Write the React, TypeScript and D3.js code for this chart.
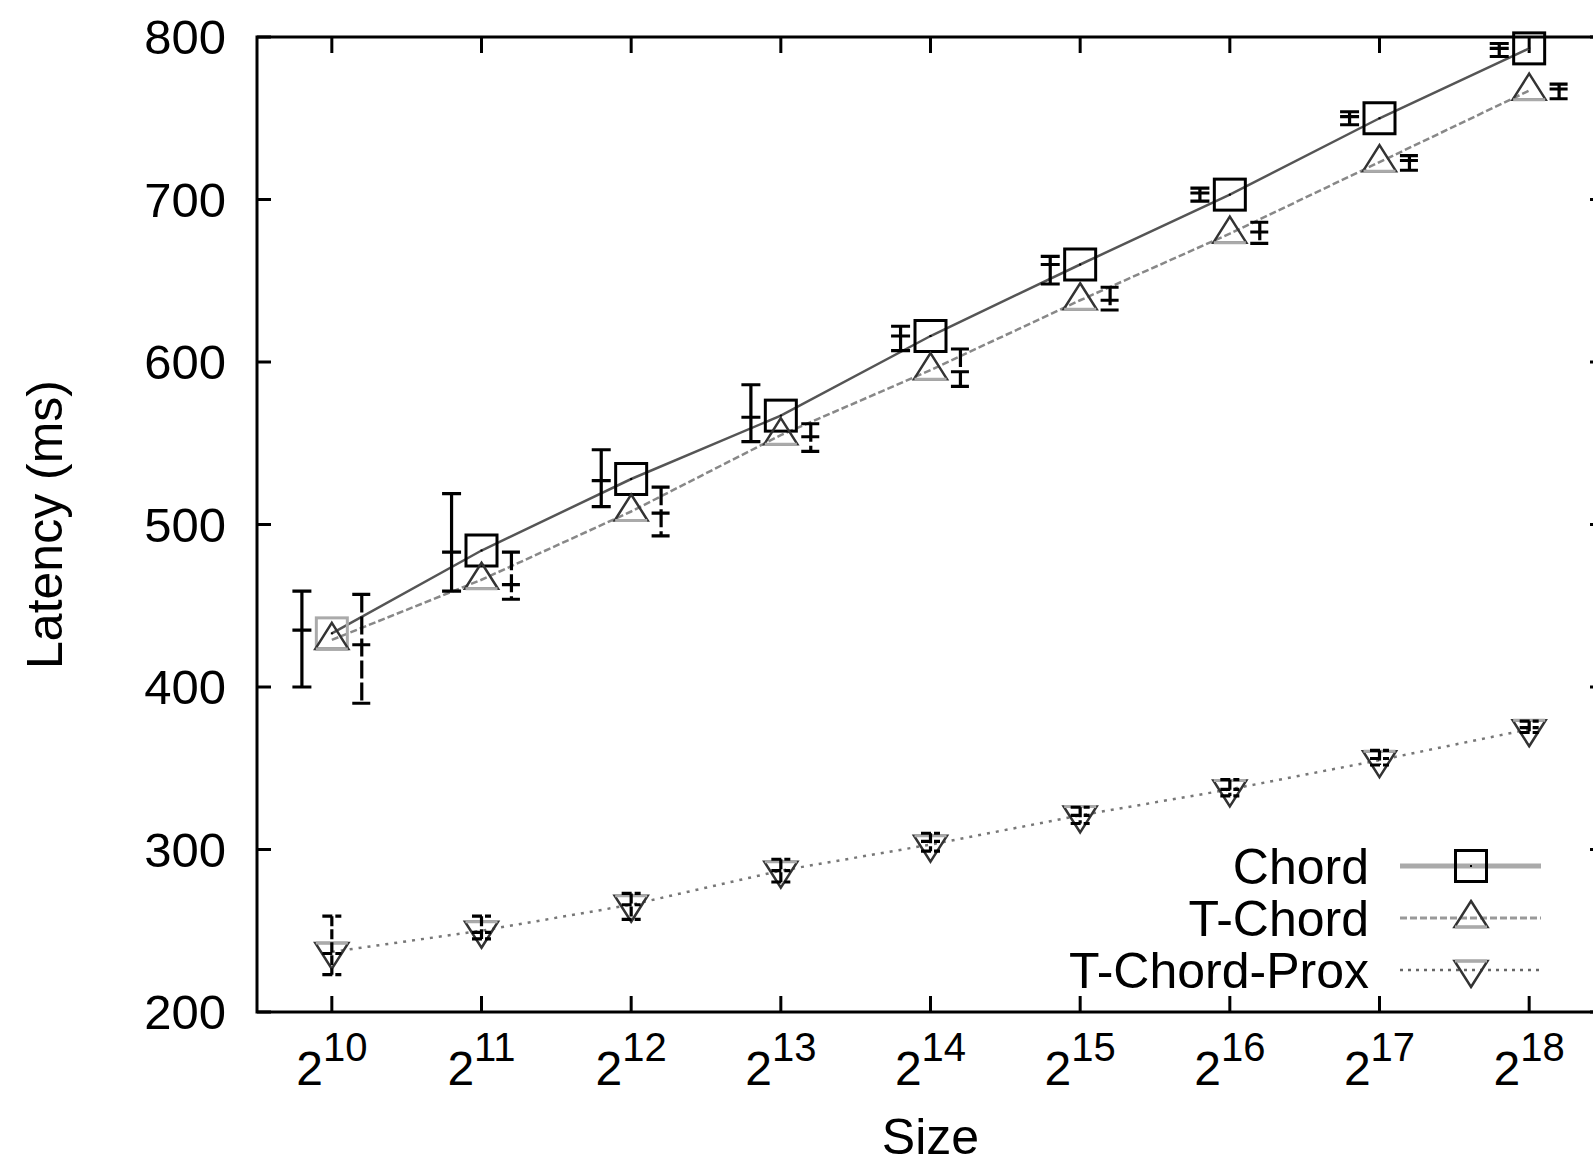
import React from 'react'
import { scaleLinear, line } from 'd3'

// log2 of network size
const exponents = [10, 11, 12, 13, 14, 15, 16, 17, 18]
const yTicks = [200, 300, 400, 500, 600, 700, 800]

// mean latency (ms) at each size
const chord = [433, 484, 528, 567, 616, 660, 703, 750, 793]
const tChord = [429, 466, 508, 555, 595, 638, 679, 723, 767]
const tChordProx = [237, 250, 266, 287, 303, 321, 337, 355, 374]

// error bars (low / centre / high)
const chordLo = [400, 459, 511, 551, 607, 648, 699, 746, 788]
const chordMid = [435, 483, 527, 566, 616, 660, 704, 751, 793]
const chordHi = [459, 519, 546, 586, 622, 665, 707, 754, 796]

const tChordLo = [390, 454, 493, 545, 585, 632, 673, 718, 762]
const tChordMid = [426, 463, 507, 554, 594, 638, 680, 724, 768]
const tChordHi = [457, 483, 523, 562, 608, 646, 686, 727, 771]

const proxLo = [223, 245, 257, 280, 299, 316, 333, 352, 372]
const proxMid = [236, 249, 266, 287, 305, 321, 337, 356, 375]
const proxHi = [259, 259, 273, 294, 310, 326, 343, 361, 379]

const W = 1593
const H = 1164
const margin = { top: 37, right: -11, bottom: 152, left: 257 }
const FONT = '"Liberation Sans", Arial, Helvetica, sans-serif'

const x = scaleLinear().domain([9.5, 18.5]).range([margin.left, W - margin.right])
const y = scaleLinear().domain([200, 800]).range([H - margin.bottom, margin.top])

const series = [
    { name: 'Chord', values: chord, lo: chordLo, mid: chordMid, hi: chordHi, offset: -0.2,
      stroke: '#555', dash: null, errDash: null, marker: 'square', legendStroke: '#aaa', legendWidth: 5, legendDash: null },
    { name: 'T-Chord', values: tChord, lo: tChordLo, mid: tChordMid, hi: tChordHi, offset: 0.2,
      stroke: '#888', dash: '7,3', errDash: '18,4', marker: 'up', legendStroke: '#999', legendWidth: 3, legendDash: '7,3' },
    { name: 'T-Chord-Prox', values: tChordProx, lo: proxLo, mid: proxMid, hi: proxHi, offset: 0,
      stroke: '#777', dash: '3,6', errDash: '10,3', marker: 'down', legendStroke: '#666', legendWidth: 2.5, legendDash: '3,5' }
]

const Marker = ({ type, cx, cy, first }: { type: string, cx: number, cy: number, first?: boolean }) => {
    if (type === 'square') {
        return (
            <g>
                <rect x={cx - 15.5} y={cy - 15.5} width={31} height={31} fill="none"
                    stroke={first ? '#aaa' : '#000'} strokeWidth={3} />
                <rect x={cx - 1} y={cy - 1} width={2} height={2} fill="#000" />
            </g>
        )
    }
    const s = type === 'up' ? 1 : -1
    const apex = cy - 17 * s
    const base = cy + 9 * s
    return (
        <g>
            <path d={`M${cx},${apex}L${cx + 16.5},${base}L${cx - 16.5},${base}Z`} fill="none"
                stroke="#333" strokeWidth={2.5} strokeLinejoin="miter" />
            <line x1={cx - 16} x2={cx + 16} y1={base} y2={base} stroke="#aaa" strokeWidth={3} />
        </g>
    )
}

const App = () => {
    const plotW = x.range()[1] - x.range()[0]
    const plotH = y.range()[0] - y.range()[1]
    const x0 = x.range()[0]
    const y0 = y.range()[1]
    const yBottom = y.range()[0]
    const xRight = x.range()[1]

    const legendX = 1369
    const legendRows = [866, 918, 970]

    return (
        <svg width={W} height={H} style={{ position: 'absolute', left: 0, top: 0, background: '#fff' }}
            fontFamily={FONT}>
            <rect x={0} y={0} width={W} height={H} fill="#fff" />

            {/* ticks */}
            {yTicks.map((t) => (
                <g key={'yt' + t}>
                    <line x1={x0} x2={x0 + 14} y1={y(t)} y2={y(t)} stroke="#000" strokeWidth={3} />
                    <line x1={xRight - 14} x2={xRight} y1={y(t)} y2={y(t)} stroke="#000" strokeWidth={3} />
                    <text x={226} y={y(t) + 17} textAnchor="end" fontSize={49} fill="#000">{t}</text>
                </g>
            ))}
            {exponents.map((e) => (
                <g key={'xt' + e}>
                    <line x1={x(e)} x2={x(e)} y1={yBottom} y2={yBottom - 16} stroke="#000" strokeWidth={3} />
                    <line x1={x(e)} x2={x(e)} y1={y0} y2={y0 + 16} stroke="#000" strokeWidth={3} />
                    <text x={x(e)} y={1085} textAnchor="middle" fontSize={48} fill="#000">
                        2<tspan dy={-24} fontSize={40}>{e}</tspan>
                    </text>
                </g>
            ))}

            {/* frame */}
            <rect x={x0} y={y0} width={plotW} height={plotH} fill="none" stroke="#000" strokeWidth={3} />

            {/* axis titles */}
            <text x={x0 + plotW / 2} y={1154} textAnchor="middle" fontSize={50} fill="#000">Size</text>
            <text transform={`translate(62,${y0 + plotH / 2}) rotate(-90)`} textAnchor="middle"
                fontSize={50} fill="#000">Latency (ms)</text>

            {/* series lines */}
            {series.map((s) => {
                const path = line<number>()
                    .x((_, i) => x(exponents[i]))
                    .y((d) => y(d))(s.values)
                return (
                    <path key={'l' + s.name} d={path || ''} fill="none" stroke={s.stroke}
                        strokeWidth={2.5} strokeDasharray={s.dash || undefined} />
                )
            })}

            {/* markers */}
            {series.map((s) => (
                <g key={'m' + s.name}>
                    {s.values.map((v, i) => (
                        <Marker key={i} type={s.marker} cx={x(exponents[i])} cy={y(v)}
                            first={i === 0} />
                    ))}
                </g>
            ))}

            {/* error bars */}
            {series.map((s) => (
                <g key={'e' + s.name} stroke="#000" strokeWidth={3.2} fill="none">
                    {exponents.map((e, i) => {
                        const ex = x(e + s.offset)
                        const c = 9.5
                        const d = `M${ex - c},${y(s.hi[i])}H${ex + c}M${ex},${y(s.hi[i])}V${y(s.lo[i])}` +
                            `M${ex - c},${y(s.lo[i])}H${ex + c}M${ex - c},${y(s.mid[i])}H${ex + c}`
                        return <path key={i} d={d} strokeDasharray={s.errDash || undefined} />
                    })}
                </g>
            ))}

            {/* legend */}
            {series.map((s, i) => (
                <g key={'lg' + s.name}>
                    <text x={legendX} y={legendRows[i] + 18} textAnchor="end" fontSize={50} fill="#000">
                        {s.name}
                    </text>
                    <line x1={1400} x2={1541} y1={legendRows[i]} y2={legendRows[i]} stroke={s.legendStroke}
                        strokeWidth={s.legendWidth} strokeDasharray={s.legendDash || undefined} />
                    <Marker type={s.marker} cx={1471} cy={legendRows[i]} />
                </g>
            ))}
        </svg>
    )
}

export default App
